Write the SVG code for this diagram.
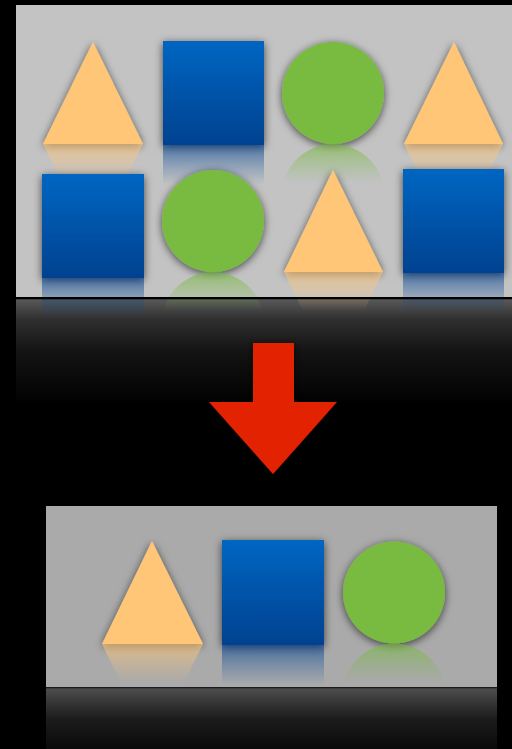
<svg xmlns="http://www.w3.org/2000/svg" width="512" height="749" viewBox="0 0 512 749">
<style>
.tri{fill:#ffc677}
.sq{fill:url(#blue)}
.ci{fill:#78bb40}
.sh{filter:url(#ds)}
.arrow{fill:#e22400;filter:url(#ds)}
.edge{fill:#000}
</style>
<defs>
<linearGradient id="blue" x1="0" y1="0" x2="0" y2="1">
<stop offset="0" stop-color="#0066c2"/>
<stop offset="1" stop-color="#054290"/>
</linearGradient>
<filter id="ds" x="-30%" y="-30%" width="160%" height="160%">
<feDropShadow dx="0" dy="2" stdDeviation="4" flood-color="#000" flood-opacity="0.65"/>
</filter>
<linearGradient id="rg" x1="0" y1="0" x2="0" y2="1">
<stop offset="0" stop-color="#fff" stop-opacity="0.62"/>
<stop offset="0.18" stop-color="#fff" stop-opacity="0.3"/>
<stop offset="0.38" stop-color="#fff" stop-opacity="0"/>
</linearGradient>
<mask id="rm" maskContentUnits="objectBoundingBox">
<rect x="0" y="0" width="1" height="1" fill="url(#rg)"/>
</mask>
<linearGradient id="fl1" gradientUnits="userSpaceOnUse" x1="0" y1="299" x2="0" y2="405">
<stop offset="0" stop-color="#5a5a5a"/>
<stop offset="0.2" stop-color="#2e2e2e"/>
<stop offset="0.5" stop-color="#131313"/>
<stop offset="0.8" stop-color="#080808"/>
<stop offset="1" stop-color="#000"/>
</linearGradient>
<linearGradient id="fl2" gradientUnits="userSpaceOnUse" x1="0" y1="688" x2="0" y2="749">
<stop offset="0" stop-color="#4e4e4e"/>
<stop offset="0.5" stop-color="#1c1c1c"/>
<stop offset="1" stop-color="#0a0a0a"/>
</linearGradient>
<polygon id="s-t1" class="tri" points="93,42 43,144 143,144"/>
<rect id="s-q1" class="sq" x="163" y="41" width="101" height="104"/>
<circle id="s-c1" class="ci" cx="333" cy="93" r="51"/>
<polygon id="s-t2" class="tri" points="454,42 404,144 503,144"/>
<rect id="s-q2" class="sq" x="42" y="174" width="102" height="104"/>
<circle id="s-c2" class="ci" cx="213" cy="221" r="51"/>
<polygon id="s-t3" class="tri" points="333,170 284,272 383,272"/>
<rect id="s-q3" class="sq" x="403" y="169" width="101" height="104"/>
<polygon id="s-t4" class="tri" points="152,541 102,644 203,644"/>
<rect id="s-q4" class="sq" x="222" y="540" width="102" height="105"/>
<circle id="s-c4" class="ci" cx="394" cy="592.5" r="51"/>
</defs>
<rect x="0" y="0" width="512" height="749" fill="#000"/>
<g id="panel-top">
<rect x="16" y="299" width="496" height="106" fill="url(#fl1)"/>
<rect x="16" y="5" width="496" height="292" fill="#c3c3c3"/>
<g id="node-tri1"><use href="#s-t1" class="sh"/><g mask="url(#rm)"><use href="#s-t1" transform="translate(0,288) scale(1,-1)"/></g></g>
<g id="node-sq1"><use href="#s-q1" class="sh"/><g mask="url(#rm)"><use href="#s-q1" transform="translate(0,290) scale(1,-1)"/></g></g>
<g id="node-circ1"><use href="#s-c1" class="sh"/><g mask="url(#rm)"><use href="#s-c1" transform="translate(0,288) scale(1,-1)"/></g></g>
<g id="node-tri2"><use href="#s-t2" class="sh"/><g mask="url(#rm)"><use href="#s-t2" transform="translate(0,288) scale(1,-1)"/></g></g>
<g id="node-sq2"><use href="#s-q2" class="sh"/><g mask="url(#rm)"><use href="#s-q2" transform="translate(0,556) scale(1,-1)"/></g></g>
<g id="node-circ2"><use href="#s-c2" class="sh"/><g mask="url(#rm)"><use href="#s-c2" transform="translate(0,544) scale(1,-1)"/></g></g>
<g id="node-tri3"><use href="#s-t3" class="sh"/><g mask="url(#rm)"><use href="#s-t3" transform="translate(0,544) scale(1,-1)"/></g></g>
<g id="node-sq3"><use href="#s-q3" class="sh"/><g mask="url(#rm)"><use href="#s-q3" transform="translate(0,546) scale(1,-1)"/></g></g>
<rect class="edge" x="16" y="297" width="496" height="2.3"/>
</g>
<g id="panel-bottom">
<rect x="46" y="688" width="451" height="61" fill="url(#fl2)"/>
<rect x="46" y="506" width="451" height="181" fill="#aaaaaa"/>
<g id="node-tri4"><use href="#s-t4" class="sh"/><g mask="url(#rm)"><use href="#s-t4" transform="translate(0,1288) scale(1,-1)"/></g></g>
<g id="node-sq4"><use href="#s-q4" class="sh"/><g mask="url(#rm)"><use href="#s-q4" transform="translate(0,1290) scale(1,-1)"/></g></g>
<g id="node-circ4"><use href="#s-c4" class="sh"/><g mask="url(#rm)"><use href="#s-c4" transform="translate(0,1287) scale(1,-1)"/></g></g>
<rect x="46" y="687" width="451" height="1.3" fill="#1a1a1a"/>
</g>
<g id="connectors">
<polygon class="arrow" points="253,343 294,343 294,402 337,402 273,474 209,402 253,402"/>
</g>
</svg>
